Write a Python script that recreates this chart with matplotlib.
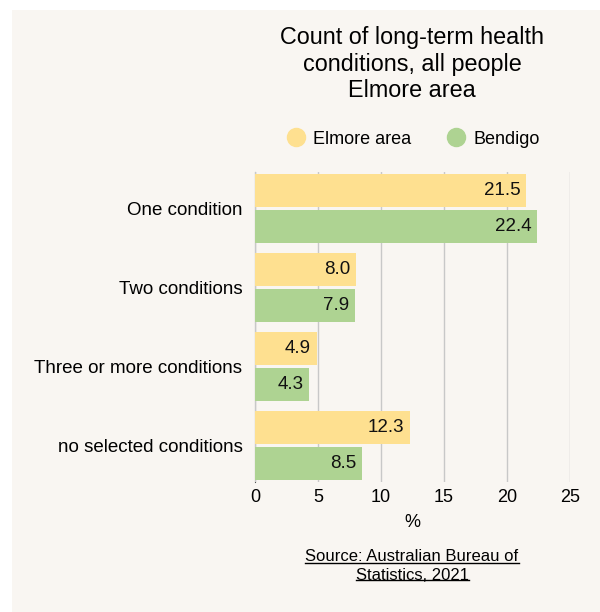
import matplotlib.pyplot as plt
import matplotlib.patches as mpatches
from matplotlib.lines import Line2D
import numpy as np

plt.rcParams['font.family'] = ['Liberation Sans', 'DejaVu Sans']

categories = ['One condition', 'Two conditions', 'Three or more conditions', 'no selected conditions']
elmore = [21.5, 8.0, 4.9, 12.3]
bendigo = [22.4, 7.9, 4.3, 8.5]
series_names = ['Elmore area', 'Bendigo']
xticks = [0, 5, 10, 15, 20, 25]

bg = '#f9f6f2'
c_yel = '#fee090'
c_grn = '#aed392'

fig = plt.figure(figsize=(6, 6.12), dpi=100)
fig.patch.set_facecolor('white')
# off-white panel behind everything
fig.patches.append(mpatches.Rectangle((12/600, 0), 1, 1 - 10/612, transform=fig.transFigure,
                                      facecolor=bg, edgecolor='none', zorder=-10))

ax = fig.add_axes([255/600, 1 - 482/612, 315/600, 310/612])
ax.set_facecolor(bg)
ax.patch.set_alpha(0)

y = np.arange(len(categories))
h = 0.42
off = 0.225
b1 = ax.barh(y - off, elmore, height=h, color=c_yel, zorder=2)
b2 = ax.barh(y + off, bendigo, height=h, color=c_grn, zorder=2)

for bars, vals in [(b1, elmore), (b2, bendigo)]:
    for bar, v in zip(bars, vals):
        ax.text(v - 0.45, bar.get_y() + bar.get_height() / 2, f'{v:.1f}',
                ha='right', va='center', fontsize=13.5, color='#111111', zorder=3)

ax.set_xlim(0, 25)
ax.set_ylim(3.46, -0.46)
ax.set_xticks(xticks)
ax.set_xticklabels([str(t) for t in xticks], fontsize=13)
ax.set_yticks(y)
ax.set_yticklabels(categories, fontsize=13.5)
ax.tick_params(axis='y', length=0, pad=9)
ax.tick_params(axis='x', length=0, pad=5)
ax.grid(axis='x', color='#c8c8c8', linewidth=1, zorder=0)
for s in ['top', 'right', 'bottom']:
    ax.spines[s].set_visible(False)
ax.spines['left'].set_color('#555555')
ax.spines['left'].set_zorder(1)
ax.set_xlabel('%', fontsize=13, labelpad=6)

fig.text(412/600, 1 - 64/612, 'Count of long-term health\nconditions, all people\nElmore area',
         ha='center', va='center', fontsize=16.8, linespacing=1.2)

handles = [Line2D([], [], marker='o', linestyle='none', markersize=13, color=c) for c in (c_yel, c_grn)]
fig.legend(handles, series_names, loc='center', bbox_to_anchor=(413/600, 1 - 139/612),
           ncol=2, frameon=False, fontsize=13, handlelength=1.0, handletextpad=0.45,
           columnspacing=2.0)

src = fig.text(412/600, 1 - 566/612, 'Source: Australian Bureau of\nStatistics, 2021',
               ha='center', va='center', fontsize=12, linespacing=1.4)

# underline each line of the source text
fig.canvas.draw()
r = fig.canvas.get_renderer()
lines_txt = ['Source: Australian Bureau of', 'Statistics, 2021']
bb = src.get_window_extent(r)
nl = len(lines_txt)
lh = bb.height / nl
for i, t in enumerate(lines_txt):
    tmp = fig.text(0, 0, t, fontsize=12)
    w = tmp.get_window_extent(r).width
    tmp.remove()
    cx = (bb.x0 + bb.x1) / 2
    yb = bb.y1 - (i + 1) * lh + 3
    fig.add_artist(Line2D([(cx - w / 2) / 600, (cx + w / 2) / 600], [yb / 612, yb / 612],
                          transform=fig.transFigure, color='black', linewidth=1))

fig.savefig('out.png', dpi=100, facecolor=fig.get_facecolor())
